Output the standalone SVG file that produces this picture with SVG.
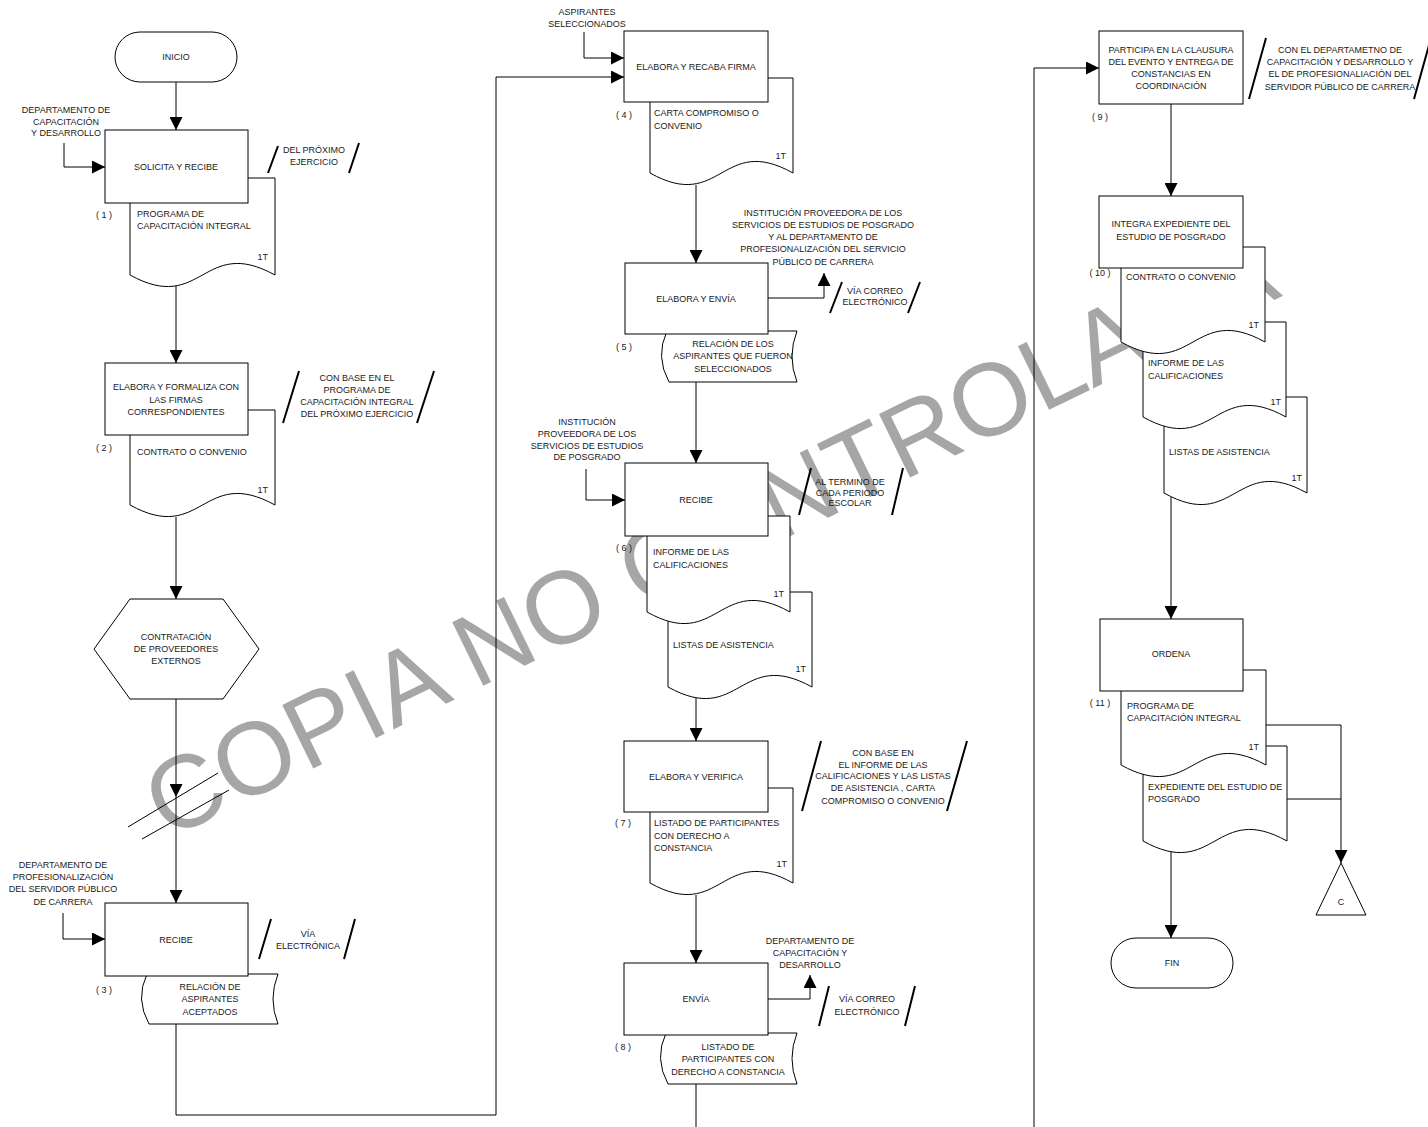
<svg xmlns="http://www.w3.org/2000/svg" width="1428" height="1127" viewBox="0 0 1428 1127">
<style>
.bx{fill:#fff;stroke:#000;stroke-width:1}
.cn{fill:none;stroke:#000;stroke-width:1}
.sl{stroke:#000;stroke-width:2;fill:none}
text{font-family:"Liberation Sans",Arial,sans-serif;font-size:9px;fill:#1a1a1a}
.c{text-anchor:middle}
.r{text-anchor:end}
.wm{font-size:103px;fill:#a6a6a6}
</style>
<defs>
<marker id="ah" markerUnits="userSpaceOnUse" markerWidth="13" markerHeight="13" refX="13" refY="6.5" orient="auto">
<path d="M0,0 L13,6.5 L0,13 Z" fill="#000"/>
</marker>
</defs>
<rect width="1428" height="1127" fill="#fff"/>
<text class="wm" x="167" y="840" transform="rotate(-26 167 840)">COPIA NO CONTROLADA</text>

<g id="connectors">
<path class="cn" d="M176,82 V130" marker-end="url(#ah)"/>
<path class="cn" d="M64,143 V167 H105" marker-end="url(#ah)"/>
<path class="cn" d="M176,286 V363" marker-end="url(#ah)"/>
<path class="cn" d="M176,517 V599" marker-end="url(#ah)"/>
<path class="cn" d="M176,699 V797" marker-end="url(#ah)"/>
<path class="cn" d="M176,797 V903" marker-end="url(#ah)"/>
<path class="cn" d="M128,827 L218,773 M142,839 L229,790"/>
<path class="cn" d="M63,913 V939 H105" marker-end="url(#ah)"/>
<path class="cn" d="M176,1024 V1115 H496 V77 H624" marker-end="url(#ah)"/>
<path class="cn" d="M584,32 V58 H624" marker-end="url(#ah)"/>
<path class="cn" d="M696,185 V263" marker-end="url(#ah)"/>
<path class="cn" d="M768,298 H824 V273" marker-end="url(#ah)"/>
<path class="cn" d="M696,382 V463" marker-end="url(#ah)"/>
<path class="cn" d="M586,469 V500 H625" marker-end="url(#ah)"/>
<path class="cn" d="M696,697 V741" marker-end="url(#ah)"/>
<path class="cn" d="M696,895 V963" marker-end="url(#ah)"/>
<path class="cn" d="M768,999 H810 V975" marker-end="url(#ah)"/>
<path class="cn" d="M696,1084 V1127"/>
<path class="cn" d="M1034,1127 V68 H1099" marker-end="url(#ah)"/>
<path class="cn" d="M1171,104 V196" marker-end="url(#ah)"/>
<path class="cn" d="M1171,497 V619" marker-end="url(#ah)"/>
<path class="cn" d="M1266,725 H1341 V863" marker-end="url(#ah)"/>
<path class="cn" d="M1287,799 H1341"/>
<path class="cn" d="M1171,851 V938" marker-end="url(#ah)"/>
</g>

<g id="inicio">
<rect class="bx" x="115" y="32" width="122" height="50" rx="25"/>
<text class="c" x="176" y="60">INICIO</text>
</g>

<g id="in1">
<text class="c" x="66" y="113">DEPARTAMENTO DE</text>
<text class="c" x="66" y="124.5">CAPACITACIÓN</text>
<text class="c" x="66" y="136">Y DESARROLLO</text>
</g>

<g id="step1">
<path class="bx" d="M130,178 H275 V275 C202.5,235 202.5,315 130,275 Z"/>
<rect class="bx" x="105" y="130" width="143" height="73"/>
<text class="c" x="176" y="170">SOLICITA Y RECIBE</text>
<text class="c" x="104" y="218">( 1 )</text>
<text x="137" y="217">PROGRAMA DE</text>
<text x="137" y="229">CAPACITACIÓN INTEGRAL</text>
<text class="r" x="268" y="260">1T</text>
<path class="sl" d="M268,173 L278,146 M349,173 L359,143"/>
<text class="c" x="314" y="153">DEL PRÓXIMO</text>
<text class="c" x="314" y="165">EJERCICIO</text>
</g>

<g id="step2">
<path class="bx" d="M130,410 H275 V505 C202.5,465 202.5,545 130,505 Z"/>
<rect class="bx" x="105" y="363" width="143" height="72"/>
<text class="c" x="176" y="390">ELABORA Y FORMALIZA CON</text>
<text class="c" x="176" y="402.5">LAS FIRMAS</text>
<text class="c" x="176" y="415">CORRESPONDIENTES</text>
<text class="c" x="104" y="451">( 2 )</text>
<text x="137" y="455">CONTRATO O CONVENIO</text>
<text class="r" x="268" y="493">1T</text>
<path class="sl" d="M283,423 L299,371 M417,423 L434,371"/>
<text class="c" x="357" y="381">CON BASE EN EL</text>
<text class="c" x="357" y="393">PROGRAMA DE</text>
<text class="c" x="357" y="405">CAPACITACIÓN INTEGRAL</text>
<text class="c" x="357" y="417">DEL PRÓXIMO EJERCICIO</text>
</g>

<g id="contratacion">
<polygon class="bx" points="94,649 130,599 223,599 259,649 223,699 130,699"/>
<text class="c" x="176" y="640">CONTRATACIÓN</text>
<text class="c" x="176" y="652">DE PROVEEDORES</text>
<text class="c" x="176" y="664">EXTERNOS</text>
</g>

<g id="in3">
<text class="c" x="63" y="868">DEPARTAMENTO DE</text>
<text class="c" x="63" y="880">PROFESIONALIZACIÓN</text>
<text class="c" x="63" y="892">DEL SERVIDOR PÚBLICO</text>
<text class="c" x="63" y="905">DE CARRERA</text>
</g>

<g id="step3">
<path class="bx" d="M147,974 H278 Q268,999 278,1024 H149 Q135,999 147,974 Z"/>
<rect class="bx" x="105" y="903" width="143" height="73"/>
<text class="c" x="176" y="943">RECIBE</text>
<text class="c" x="104" y="993">( 3 )</text>
<text class="c" x="210" y="990">RELACIÓN DE</text>
<text class="c" x="210" y="1002">ASPIRANTES</text>
<text class="c" x="210" y="1015">ACEPTADOS</text>
<path class="sl" d="M259,959 L271,919 M344,959 L355,919"/>
<text class="c" x="308" y="937">VÍA</text>
<text class="c" x="308" y="949">ELECTRÓNICA</text>
</g>

<g id="in4">
<text class="c" x="587" y="15">ASPIRANTES</text>
<text class="c" x="587" y="27">SELECCIONADOS</text>
</g>

<g id="step4">
<path class="bx" d="M650,78 H793 V173 C721.5,133 721.5,213 650,173 Z"/>
<rect class="bx" x="624" y="31" width="144" height="71"/>
<text class="c" x="696" y="70">ELABORA Y RECABA FIRMA</text>
<text class="c" x="624" y="118">( 4 )</text>
<text x="654" y="116">CARTA COMPROMISO O</text>
<text x="654" y="129">CONVENIO</text>
<text class="r" x="786" y="159">1T</text>
</g>

<g id="out5">
<text class="c" x="823" y="216">INSTITUCIÓN PROVEEDORA DE LOS</text>
<text class="c" x="823" y="228">SERVICIOS DE ESTUDIOS DE POSGRADO</text>
<text class="c" x="823" y="240">Y AL DEPARTAMENTO DE</text>
<text class="c" x="823" y="252">PROFESIONALIZACIÓN DEL SERVICIO</text>
<text class="c" x="823" y="265">PÚBLICO DE CARRERA</text>
</g>

<g id="step5">
<path class="bx" d="M667,331 H797 Q787,356.5 797,382 H669 Q655,356.5 667,331 Z"/>
<rect class="bx" x="625" y="263" width="143" height="71"/>
<text class="c" x="696" y="302">ELABORA Y ENVÍA</text>
<text class="c" x="624" y="350">( 5 )</text>
<text class="c" x="733" y="347">RELACIÓN DE LOS</text>
<text class="c" x="733" y="359">ASPIRANTES QUE FUERON</text>
<text class="c" x="733" y="372">SELECCIONADOS</text>
<path class="sl" d="M830,313 L842,282 M908,313 L920,282"/>
<text class="c" x="875" y="294">VÍA CORREO</text>
<text class="c" x="875" y="305">ELECTRÓNICO</text>
</g>

<g id="in6">
<text class="c" x="587" y="425">INSTITUCIÓN</text>
<text class="c" x="587" y="437">PROVEEDORA DE LOS</text>
<text class="c" x="587" y="449">SERVICIOS DE ESTUDIOS</text>
<text class="c" x="587" y="460">DE POSGRADO</text>
</g>

<g id="step6">
<path class="bx" d="M668,592 H812 V687 C740,647 740,727 668,687 Z"/>
<path class="bx" d="M647,516 H790 V612 C718.5,572 718.5,652 647,612 Z"/>
<rect class="bx" x="625" y="463" width="143" height="73"/>
<text class="c" x="696" y="503">RECIBE</text>
<text class="c" x="624" y="551">( 6 )</text>
<text x="653" y="555">INFORME DE LAS</text>
<text x="653" y="568">CALIFICACIONES</text>
<text class="r" x="784" y="597">1T</text>
<text x="673" y="648">LISTAS DE ASISTENCIA</text>
<text class="r" x="806" y="672">1T</text>
<path class="sl" d="M799,515 L811,468 M892,515 L903,468"/>
<text class="c" x="850" y="485">AL TERMINO DE</text>
<text class="c" x="850" y="496">CADA PERIODO</text>
<text class="c" x="850" y="506">ESCOLAR</text>
</g>

<g id="step7">
<path class="bx" d="M650,788 H793 V883 C721.5,843 721.5,923 650,883 Z"/>
<rect class="bx" x="624" y="741" width="144" height="71"/>
<text class="c" x="696" y="780">ELABORA Y  VERIFICA</text>
<text class="c" x="623" y="826">( 7 )</text>
<text x="654" y="826">LISTADO DE PARTICIPANTES</text>
<text x="654" y="838.5">CON DERECHO A</text>
<text x="654" y="851">CONSTANCIA</text>
<text class="r" x="787" y="867">1T</text>
<path class="sl" d="M802,811 L821,741 M947,811 L967,741"/>
<text class="c" x="883" y="756">CON BASE EN</text>
<text class="c" x="883" y="768">EL INFORME DE LAS</text>
<text class="c" x="883" y="779">CALIFICACIONES Y LAS LISTAS</text>
<text class="c" x="883" y="791">DE ASISTENCIA , CARTA</text>
<text class="c" x="883" y="804">COMPROMISO O CONVENIO</text>
</g>

<g id="out8">
<text class="c" x="810" y="944">DEPARTAMENTO DE</text>
<text class="c" x="810" y="956">CAPACITACIÓN Y</text>
<text class="c" x="810" y="968">DESARROLLO</text>
</g>

<g id="step8">
<path class="bx" d="M666,1033 H797 Q787,1058.5 797,1084 H668 Q654,1058.5 666,1033 Z"/>
<rect class="bx" x="624" y="963" width="144" height="72"/>
<text class="c" x="696" y="1002">ENVÍA</text>
<text class="c" x="623" y="1050">( 8 )</text>
<text class="c" x="728" y="1050">LISTADO DE</text>
<text class="c" x="728" y="1062">PARTICIPANTES CON</text>
<text class="c" x="728" y="1075">DERECHO A CONSTANCIA</text>
<path class="sl" d="M819,1026 L829,986 M905,1026 L915,986"/>
<text class="c" x="867" y="1002">VÍA CORREO</text>
<text class="c" x="867" y="1015">ELECTRÓNICO</text>
</g>

<g id="step9">
<rect class="bx" x="1099" y="31" width="144" height="73"/>
<text class="c" x="1171" y="53">PARTICIPA EN LA CLAUSURA</text>
<text class="c" x="1171" y="65">DEL EVENTO Y ENTREGA DE</text>
<text class="c" x="1171" y="77">CONSTANCIAS EN</text>
<text class="c" x="1171" y="89">COORDINACIÓN</text>
<text class="c" x="1100" y="120">( 9 )</text>
<path class="sl" d="M1249,99 L1266,38 M1414,99 L1431,38"/>
<text class="c" x="1340" y="53">CON EL DEPARTAMETNO DE</text>
<text class="c" x="1340" y="65">CAPACITACIÓN Y DESARROLLO Y</text>
<text class="c" x="1340" y="77">EL DE PROFESIONALIACIÓN DEL</text>
<text class="c" x="1340" y="90">SERVIDOR PÚBLICO DE CARRERA</text>
</g>

<g id="step10">
<path class="bx" d="M1164,397 H1307 V493 C1235.5,453 1235.5,533 1164,493 Z"/>
<path class="bx" d="M1143,322 H1286 V417 C1214.5,377 1214.5,457 1143,417 Z"/>
<path class="bx" d="M1121,247 H1265 V342 C1193,302 1193,382 1121,342 Z"/>
<rect class="bx" x="1099" y="196" width="144" height="72"/>
<text class="c" x="1171" y="227">INTEGRA EXPEDIENTE DEL</text>
<text class="c" x="1171" y="240">ESTUDIO DE POSGRADO</text>
<text class="c" x="1100" y="276">( 10 )</text>
<text x="1126" y="280">CONTRATO O CONVENIO</text>
<text class="r" x="1259" y="328">1T</text>
<text x="1148" y="366">INFORME DE LAS</text>
<text x="1148" y="379">CALIFICACIONES</text>
<text class="r" x="1281" y="405">1T</text>
<text x="1169" y="455">LISTAS DE ASISTENCIA</text>
<text class="r" x="1302" y="481">1T</text>
</g>

<g id="step11">
<path class="bx" d="M1143,746 H1287 V841 C1215,801 1215,881 1143,841 Z"/>
<path class="bx" d="M1121,670 H1266 V765 C1193.5,725 1193.5,805 1121,765 Z"/>
<rect class="bx" x="1100" y="619" width="143" height="72"/>
<text class="c" x="1171" y="657">ORDENA</text>
<text class="c" x="1100" y="706">( 11 )</text>
<text x="1127" y="709">PROGRAMA DE</text>
<text x="1127" y="721">CAPACITACIÓN INTEGRAL</text>
<text class="r" x="1259" y="750">1T</text>
<text x="1148" y="790">EXPEDIENTE DEL ESTUDIO DE</text>
<text x="1148" y="802">POSGRADO</text>
</g>

<g id="conectorC">
<polygon class="bx" points="1341,863 1366,915 1316,915"/>
<text class="c" x="1341" y="905">C</text>
</g>

<g id="fin">
<rect class="bx" x="1111" y="938" width="122" height="50" rx="25"/>
<text class="c" x="1172" y="966">FIN</text>
</g>
</svg>
